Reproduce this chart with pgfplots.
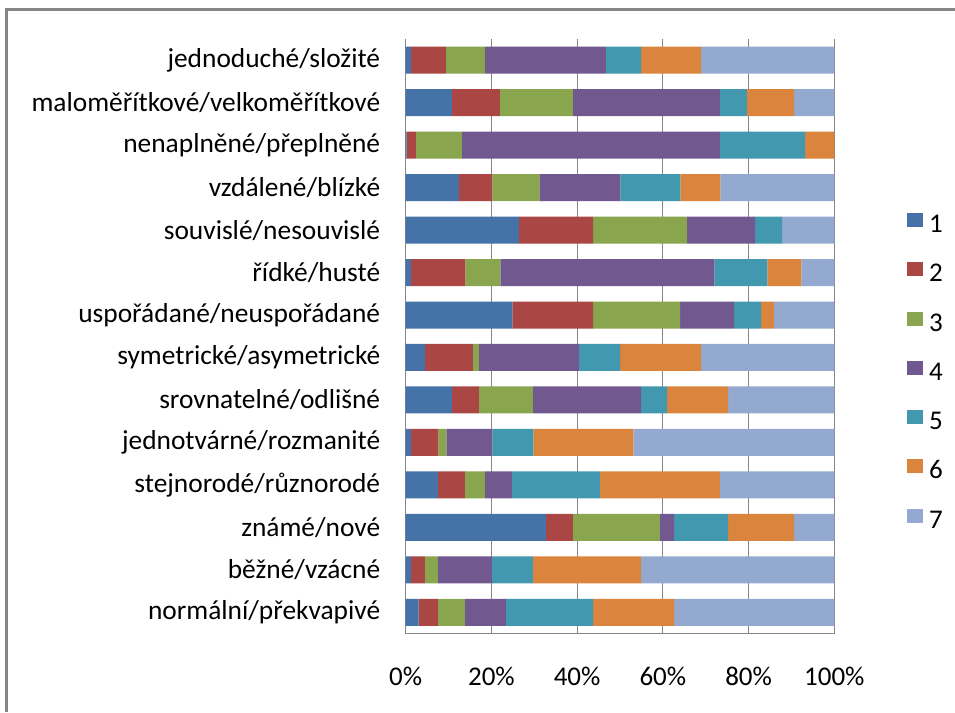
\documentclass[border=0pt]{standalone}
\usepackage{fontspec}
\setmainfont{Carlito}
\usepackage{pgfplots}
\pgfplotsset{compat=1.18}
\usepackage{pgfplotstable}
\definecolor{s1}{HTML}{4572A7}
\definecolor{s2}{HTML}{AA4643}
\definecolor{s3}{HTML}{89A54E}
\definecolor{s4}{HTML}{71588F}
\definecolor{s5}{HTML}{4198AF}
\definecolor{s6}{HTML}{DB843D}
\definecolor{s7}{HTML}{93A9CF}
\definecolor{gridgray}{HTML}{868686}
\pgfplotstableread{
row a b c d e f g
0 1.2 8.2 9.1 28.2 8.2 14.0 31.1
1 10.8 11.2 17.0 34.3 6.3 11.0 9.4
2 0.2 2.2 10.7 60.2 19.9 6.8 0
3 12.4 7.8 11.0 18.9 14.0 9.3 26.6
4 26.4 17.3 21.9 15.9 6.3 0 12.2
5 1.2 12.7 8.2 49.9 12.4 7.9 7.7
6 24.9 18.8 20.3 12.6 6.3 3.0 14.1
7 4.5 11.2 1.4 23.3 9.6 18.9 31.1
8 10.8 6.3 12.6 25.2 6.1 14.2 24.8
9 1.2 6.4 1.9 10.7 9.6 23.3 46.9
10 7.5 6.3 4.7 6.3 20.5 28.0 26.7
11 32.7 6.3 20.3 3.3 12.6 15.4 9.4
12 1.2 3.3 3.0 12.6 9.6 25.2 45.1
13 3.0 4.5 6.3 9.6 20.3 18.9 37.4
}\datatable
\begin{document}
\begin{tikzpicture}[x=1pt,y=1pt]
\useasboundingbox (0,0) rectangle (955,712);
\draw[gridgray, line width=2.7pt] (6.3,0) -- (6.3,702.3) -- (956,702.3);
\begin{axis}[
  at={(405.7pt,78.5pt)}, anchor=south west,
  scale only axis, width=428.6pt, height=594.5pt,
  xbar stacked, bar width=27pt,
  xmin=0, xmax=100, ymin=-0.5, ymax=13.5, y dir=reverse,
  xtick={0,20,40,60,80,100},
  xticklabel={\pgfmathprintnumber{\tick}\%},
  ytick={0,...,13},
  yticklabels={jednoduché/složité, maloměřítkové/velkoměřítkové, nenaplněné/přeplněné, vzdálené/blízké, souvislé/nesouvislé, řídké/husté, uspořádané/neuspořádané, symetrické/asymetrické, srovnatelné/odlišné, jednotvárné/rozmanité, stejnorodé/různorodé, známé/nové, běžné/vzácné, normální/překvapivé},
  major tick length=0pt,
  /pgf/number format/assume math mode=true,
  yticklabel style={font=\fontsize{27.4}{32}\selectfont, xshift=-22pt},
  xticklabel style={font=\fontsize{27}{32}\selectfont, yshift=-30pt},
  xmajorgrids, grid style={gridgray, line width=1.2pt},
  axis x line*=bottom, axis y line*=left,
  x axis line style={-, gridgray, line width=1.2pt},
  y axis line style={draw=none},
  legend style={draw=none, fill=none, at={(1.1697,0.7077)}, anchor=north west,
    font=\fontsize{27}{32}\selectfont, inner sep=0pt,
    nodes={inner sep=0pt, text height=17pt, text depth=0pt},
    row sep=29.8pt, column sep=6pt},
  legend cell align=left,
  legend image code/.code={\fill[#1] (0pt,-3pt) rectangle (16pt,11pt);},
]
\addplot[fill=s1, draw=none] table[x=a, y=row] {\datatable};
\addplot[fill=s2, draw=none] table[x=b, y=row] {\datatable};
\addplot[fill=s3, draw=none] table[x=c, y=row] {\datatable};
\addplot[fill=s4, draw=none] table[x=d, y=row] {\datatable};
\addplot[fill=s5, draw=none] table[x=e, y=row] {\datatable};
\addplot[fill=s6, draw=none] table[x=f, y=row] {\datatable};
\addplot[fill=s7, draw=none] table[x=g, y=row] {\datatable};
\legend{1,2,3,4,5,6,7}
\end{axis}
\end{tikzpicture}
\end{document}
